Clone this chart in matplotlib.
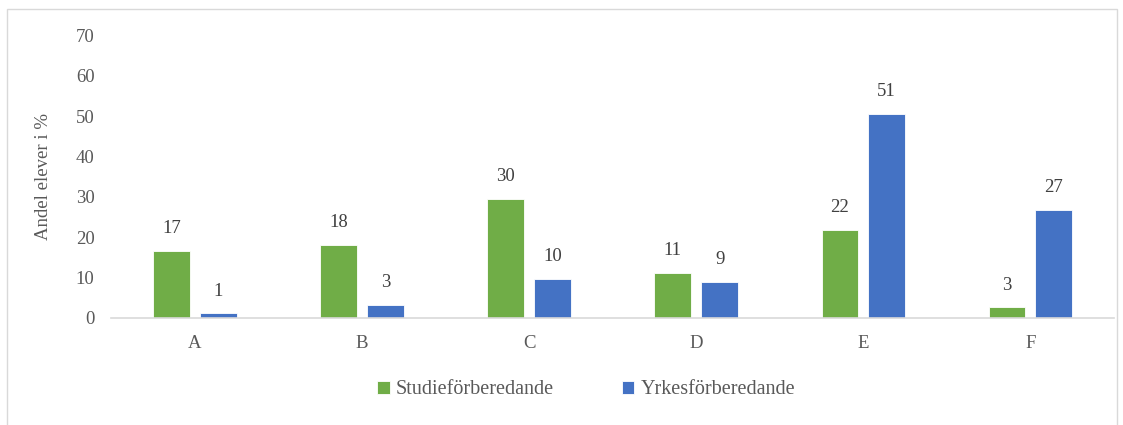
import numpy as np
import matplotlib.pyplot as plt
from matplotlib.patches import Rectangle

plt.rcParams['font.family'] = ['Liberation Serif', 'DejaVu Serif']

categories = ['A', 'B', 'C', 'D', 'E', 'F']
studie = [16.6, 18.1, 29.5, 11.2, 21.8, 2.6]
yrkes = [1.1, 3.1, 9.6, 8.8, 50.6, 26.7]
series_names = ['Studieförberedande', 'Yrkesförberedande']

green = '#70AD47'
blue = '#4472C4'
grey = '#595959'

fig = plt.figure(figsize=(11.23, 4.25), dpi=100)
ax = fig.add_axes([0.099, 0.252, 0.893, 0.665])

x = np.arange(len(categories))
w = 0.22
b1 = ax.bar(x - 0.14, studie, w, color=green, edgecolor='white', linewidth=0.6, label=series_names[0])
b2 = ax.bar(x + 0.14, yrkes, w, color=blue, edgecolor='white', linewidth=0.6, label=series_names[1])

for bars in (b1, b2):
    for r in bars:
        h = r.get_height()
        ax.annotate('%d' % int(h + 0.5), (r.get_x() + r.get_width() / 2, h),
                    xytext=(0, 10), textcoords='offset points',
                    ha='center', va='bottom', fontsize=13.5, color='#404040')

ax.set_xlim(-0.5, len(categories) - 0.5)
ax.set_ylim(0, 70)
ax.set_yticks(range(0, 71, 10))
ax.set_xticks(x)
ax.set_xticklabels(categories)
ax.tick_params(length=0, labelsize=13.5, colors=grey)
ax.tick_params(axis='y', pad=12)
ax.tick_params(axis='x', pad=12)
for s in ('top', 'right', 'left'):
    ax.spines[s].set_visible(False)
ax.spines['bottom'].set_color('#D9D9D9')
ax.spines['bottom'].set_linewidth(1.2)
ax.set_ylabel('Andel elever i %', fontsize=13.5, color=grey, labelpad=17)

fig.legend(handles=[b1, b2], loc='center', bbox_to_anchor=(0.522, 0.083), ncol=2,
           frameon=False, fontsize=14.5, handlelength=0.6, handleheight=0.6,
           handletextpad=0.3, columnspacing=3.4, labelcolor=grey)

fig.patches.append(Rectangle((0.006, -0.01), 0.989, 0.99, transform=fig.transFigure,
                             fill=False, edgecolor='#D9D9D9', linewidth=1))

fig.savefig('out.png', dpi=100)
